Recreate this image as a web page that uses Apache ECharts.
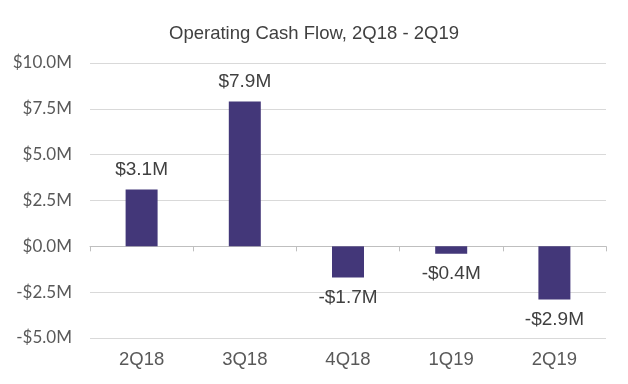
<!DOCTYPE html>
<html><head><meta charset="utf-8">
<script src="https://cdn.jsdelivr.net/npm/echarts@6/dist/echarts.min.js"></script>
<style>html,body{margin:0;padding:0;background:#fff}#c{width:628px;height:384px}</style>
</head><body><div id="c"></div>
<script>
const categories = ['2Q18', '3Q18', '4Q18', '1Q19', '2Q19'];
const cashFlow = [3.1, 7.9, -1.7, -0.4, -2.9];
const titleText = 'Operating Cash Flow, 2Q18 - 2Q19';

const fmt = v => (v < 0 ? '-$' : '$') + Math.abs(v).toFixed(1) + 'M';

const chart = echarts.init(document.getElementById('c'));
chart.setOption({
  animation: false,
  title: {
    text: titleText, left: 'center', top: 19,
    textStyle: { fontFamily: 'Liberation Sans, Arial', fontSize: 18.5, fontWeight: 'normal', color: '#404040' }
  },
  grid: { left: 90, right: 22, top: 63, bottom: 46 },
  xAxis: [{
    type: 'category', data: categories,
    axisLine: { onZero: false, show: false },
    axisTick: { show: false },
    axisLabel: { margin: 12, fontFamily: 'Liberation Sans, Arial', fontSize: 18.5, color: '#595959' }
  }, {
    type: 'category', data: categories, position: 'bottom',
    axisLine: { onZero: true, lineStyle: { color: '#bfbfbf', width: 1 } },
    axisTick: { show: true, length: 5, lineStyle: { color: '#bfbfbf' } },
    axisLabel: { show: false }
  }],
  yAxis: {
    type: 'value', min: -5, max: 10, interval: 2.5,
    axisLine: { show: false }, axisTick: { show: false },
    splitLine: { lineStyle: { color: '#d9d9d9', width: 1 } },
    axisLabel: { margin: 18, formatter: fmt, fontFamily: 'Lato, Liberation Sans', fontSize: 17, color: '#595959' }
  },
  series: [{
    type: 'bar', xAxisIndex: 0, barWidth: '31%',
    itemStyle: { color: '#433779' },
    data: cashFlow.map(v => ({
      value: v,
      label: { position: v < 0 ? 'bottom' : 'top', distance: v < 0 ? 11 : 10 }
    })),
    label: {
      show: true, formatter: p => fmt(p.value),
      fontFamily: 'Liberation Sans, Arial', fontSize: 19, color: '#404040'
    }
  }]
});
</script></body></html>
